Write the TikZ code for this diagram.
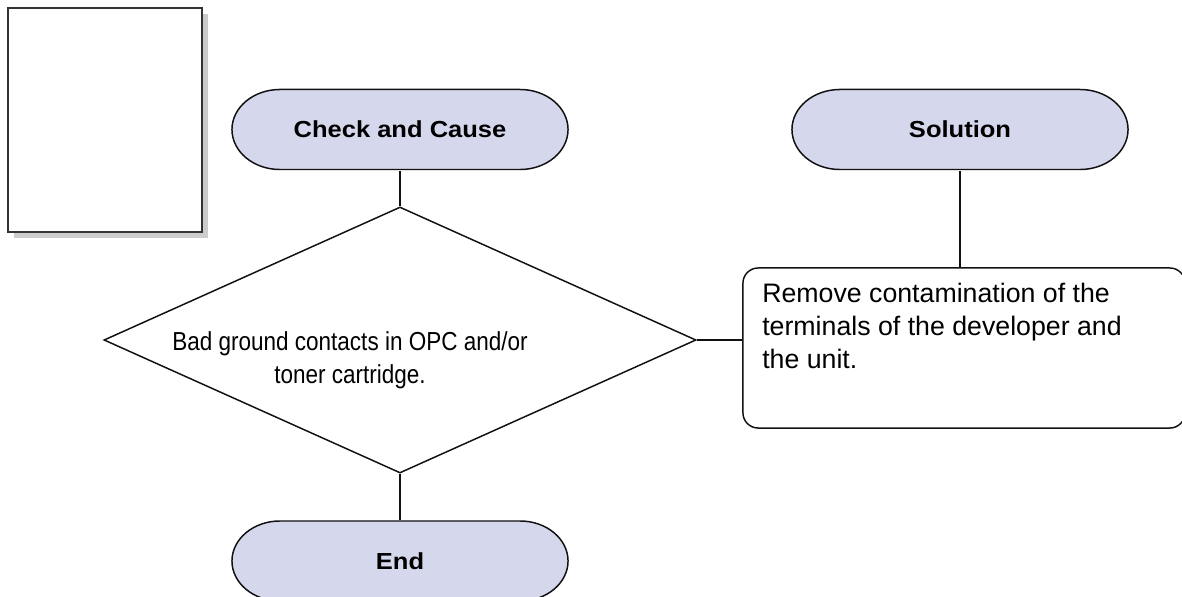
\documentclass[tikz,border=0pt]{standalone}
\usepackage{fontspec}
\setmainfont{Liberation Sans}
\newfontfamily\narrowsans{Liberation Sans}[FakeStretch=0.865]
\newfontfamily\widebold{Liberation Sans}[FakeStretch=1.1]
\usepackage{xcolor}
\usepackage{tikz}
\usetikzlibrary{positioning,shapes.geometric,shapes.misc,shadows}
\definecolor{ink}{HTML}{111111}
\definecolor{softlav}{HTML}{D5D7EC}

\begin{document}
\begin{tikzpicture}[
  x=0.025cm, y=-0.025cm,
  font=\fontsize{19}{23.4}\selectfont,
  term/.style={rectangle, inner sep=0pt, minimum width=8.45cm, minimum height=2.05cm,
    font=\widebold\fontsize{16.5}{20}\selectfont\bfseries,
    path picture={
      \draw[draw=ink, fill=softlav, line width=1.05pt]
        ([xshift=1.225cm, yshift=-0.025cm]path picture bounding box.north west)
        -- ([xshift=-1.225cm, yshift=-0.025cm]path picture bounding box.north east)
        arc[start angle=90, end angle=-90, x radius=1.2cm, y radius=1cm]
        -- ([xshift=1.225cm, yshift=0.025cm]path picture bounding box.south west)
        arc[start angle=270, end angle=90, x radius=1.2cm, y radius=1cm] -- cycle;
    }},
  decision/.style={diamond, draw=ink, line width=1.05pt, fill=white, minimum width=14.8cm, minimum height=6.65cm, inner sep=0pt},
  solbox/.style={rectangle, rounded corners=0.38cm, draw=ink, line width=1.05pt, fill=white, minimum width=11.05cm, minimum height=4cm},
  bodytext/.style={inner sep=0pt},
  link/.style={draw=ink, line width=1.05pt},
  page/.style={rectangle, draw=black!80, line width=1.2pt, fill=white, minimum width=4.85cm, minimum height=5.6cm, drop shadow={shadow xshift=4pt, shadow yshift=-4pt, opacity=0.4}}
]
\useasboundingbox (0,0) rectangle (1182,597);

\node[page] (sheet) at (105,120) {};

\node[term] (cause) at (400,129.5) {Check and Cause};
\node[term] (sol) at (960,129.5) {Solution};

\node[decision] (check) at (400,340) {};
\node[bodytext, anchor=north, align=center, font=\narrowsans\fontsize{18.5}{23.4}\selectfont] (checktxt) at (350,331) {Bad ground contacts in OPC and/or\\toner cartridge.};

\node[solbox] (fix) at (964,348) {};
\node[bodytext, anchor=north west, align=left] (fixtxt) at (762,283) {Remove contamination of the\\terminals of the developer and\\the unit.};

\node[term] (stop) at (400,561) {End};

\draw[link] (cause) -- (check);
\draw[link] (check) -- (stop);
\draw[link] (check.east) -- (check.east -| fix.west);
\draw[link] (sol.south) -- (sol.south |- fix.north);

\end{tikzpicture}
\end{document}
